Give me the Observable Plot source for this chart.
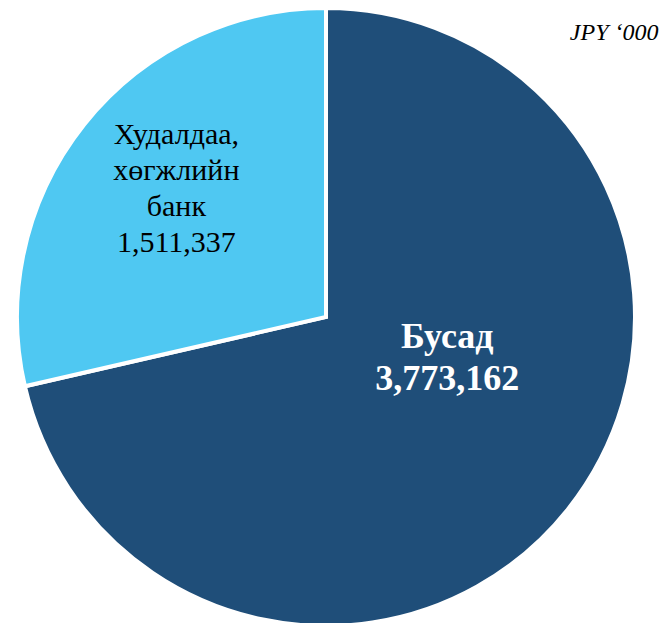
<!DOCTYPE html>
<html><head><meta charset="utf-8">
<script src="https://cdn.jsdelivr.net/npm/d3@7"></script>
<script src="https://cdn.jsdelivr.net/npm/@observablehq/plot@0.6"></script>
<style>
html,body{margin:0;padding:0;background:#fff;overflow:hidden}
#chart{width:663px;height:623px}
</style>
</head><body><div id="chart"></div>
<script>
// ---- data ----
const categories = ["Бусад", "Худалдаа, хөгжлийн банк"];
const labelLines = [["Бусад"], ["Худалдаа,", "хөгжлийн", "банк"]];
const values = [3773162, 1511337];
const unitLabel = "JPY \u2018000";

// ---- style ----
const serif = "Liberation Serif";
const colors = ["#1F4E79", "#4FC8F2"];
const textColors = ["#ffffff", "#000000"];
const fontSizes = [36, 30];
const fontWeights = ["bold", "normal"];
const lineHeights = [42 / 36, 36 / 30];
const labelRadius = [0.41, 0.644];   // fraction of radius
const labelAngleShift = [-21, 2.5];  // degrees

const fmt = d3.format(",");
const rows = categories.map((c, i) => ({category: c, value: values[i], i}));
const pie = d3.pie().sort(null).value(d => d.value)(rows);

const labels = pie.map(a => {
  const i = a.data.i;
  const mid = (a.startAngle + a.endAngle) / 2 + labelAngleShift[i] * Math.PI / 180;
  const k = labelRadius[i];
  return {
    i,
    x: Math.sin(mid) * k,
    y: -Math.cos(mid) * k,
    text: labelLines[i].join("\n") + "\n" + fmt(a.data.value)
  };
});

function pieMark(index, scales) {
  const cx = scales.x(0), cy = scales.y(0);
  const r = scales.x(1) - scales.x(0);
  const arc = d3.arc().innerRadius(0).outerRadius(r);
  const g = d3.create("svg:g").attr("transform", `translate(${cx},${cy})`);
  g.selectAll("path").data(pie).join("path")
    .attr("d", arc)
    .attr("fill", d => colors[d.data.i])
    .attr("stroke", "#fff")
    .attr("stroke-width", 4)
    .attr("stroke-linejoin", "miter");
  return g.node();
}

const textMark = i => Plot.text(labels.filter(d => d.i === i), {
  x: "x", y: "y", text: "text",
  fill: textColors[i],
  fontFamily: serif,
  fontSize: fontSizes[i],
  fontWeight: fontWeights[i],
  lineHeight: lineHeights[i],
  lineAnchor: "middle",
  textAnchor: "middle"
});

const chart = Plot.plot({
  width: 663,
  height: 623,
  margin: 0,
  style: {fontFamily: serif, background: "#fff", overflow: "visible"},
  x: {domain: [-1, 1], range: [17, 635], axis: null},
  y: {domain: [-1, 1], range: [8, 626], axis: null},
  marks: [
    pieMark,
    textMark(0),
    textMark(1),
    Plot.text([unitLabel], {
      frameAnchor: "top-right", text: d => d,
      textAnchor: "end", lineAnchor: "top",
      fontFamily: serif,
      dx: -5, dy: 22, fontSize: 24, fontStyle: "italic", fill: "#000"
    })
  ]
});
document.getElementById("chart").appendChild(chart);
</script>
</body></html>
